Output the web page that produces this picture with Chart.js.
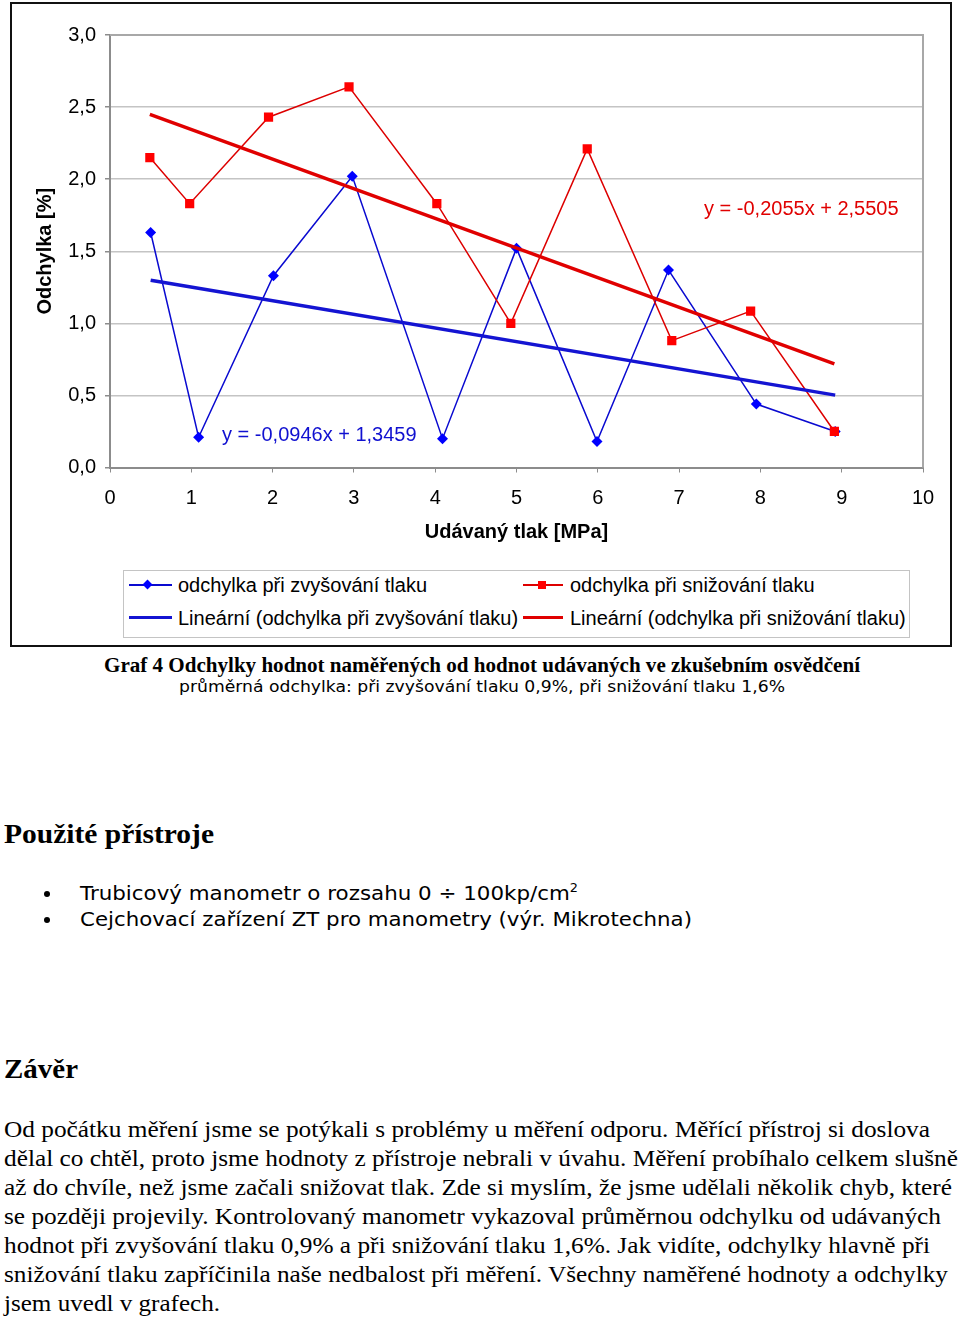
<!DOCTYPE html>
<html lang="cs"><head><meta charset="utf-8">
<script src="https://cdn.jsdelivr.net/npm/chart.js@4.4.0/dist/chart.umd.min.js"></script>
<style>
html,body{margin:0;padding:0;background:#fff;}
body{width:960px;height:1321px;position:relative;overflow:hidden;color:#000;}
.abs{position:absolute;white-space:nowrap;}
#frame{position:absolute;left:10px;top:2px;width:938px;height:641px;border:2px solid #111;}
#chartCanvas{position:absolute;left:0;top:0;}
.sans{font-family:'Liberation Sans',Arial,sans-serif;}
.serif{font-family:'Liberation Serif','Times New Roman',serif;}
.tah{font-family:'DejaVu Sans',Verdana,sans-serif;}
.fit{transform-origin:0 50%;}
#legendBox{position:absolute;left:123px;top:570px;width:785px;height:66px;border:1px solid #c4c4c4;}
.lline{position:absolute;}
.dot{position:absolute;width:6px;height:6px;border-radius:50%;background:#000;}
sup{font-size:60%;vertical-align:0;position:relative;top:-0.7em;}
</style></head>
<body>
<div id="frame"></div>
<canvas id="chartCanvas" width="960" height="560" style="width:960px;height:560px"></canvas>

<!-- trendline equations -->
<div class="abs sans" id="eqUp" style="left:222px;top:422px;font-size:20px;line-height:24px;color:#1010d0;"></div>
<div class="abs sans" id="eqDown" style="left:704px;top:196px;font-size:20px;line-height:24px;color:#e00000;"></div>

<!-- legend -->
<div id="legendBox"></div>
<div class="lline" style="left:129px;top:584px;width:43px;height:2px;background:#0a0ad0;"></div>
<div class="lline" style="left:144px;top:581px;width:7px;height:7px;background:#0000ff;transform:rotate(45deg);"></div>
<div class="lline" style="left:129px;top:616px;width:43px;height:3px;background:#1414d2;"></div>
<div class="lline" style="left:523px;top:584px;width:40px;height:2px;background:#dd0000;"></div>
<div class="lline" style="left:538px;top:581px;width:8px;height:8px;background:#ff0000;"></div>
<div class="lline" style="left:523px;top:616px;width:40px;height:3px;background:#e00000;"></div>
<div class="abs sans" id="leg0" style="left:178px;top:573px;font-size:20px;line-height:24px;"></div>
<div class="abs sans" id="leg1" style="left:570px;top:573px;font-size:20px;line-height:24px;"></div>
<div class="abs sans" id="leg2" style="left:178px;top:606px;font-size:20px;line-height:24px;"></div>
<div class="abs sans" id="leg3" style="left:570px;top:606px;font-size:20px;line-height:24px;"></div>

<!-- caption -->
<div class="abs serif fit" data-w="756" style="left:104px;top:653px;font-size:20px;line-height:24px;font-weight:bold;">Graf 4 Odchylky hodnot naměřených od hodnot udávaných ve zkušebním osvědčení</div>
<div class="abs tah fit" data-w="606" style="left:179px;top:677px;font-size:15px;line-height:20px;">průměrná odchylka: při zvyšování tlaku 0,9%, při snižování tlaku 1,6%</div>

<!-- text below -->
<div class="abs serif fit" data-w="210" style="left:4px;top:818px;font-size:28px;line-height:32px;font-weight:bold;">Použité přístroje</div>
<div class="dot" style="left:44px;top:891px;"></div>
<div class="dot" style="left:44px;top:917px;"></div>
<div class="abs tah fit" data-w="498" style="left:80px;top:880px;font-size:20px;line-height:26px;">Trubicový manometr o rozsahu 0 ÷ 100kp/cm<sup>2</sup></div>
<div class="abs tah fit" data-w="612" style="left:80px;top:906px;font-size:20px;line-height:26px;">Cejchovací zařízení ZT pro manometry (výr. Mikrotechna)</div>

<div class="abs serif fit" data-w="74" style="left:4px;top:1053px;font-size:28px;line-height:32px;font-weight:bold;">Závěr</div>

<div class="abs serif fit" data-w="926" style="left:4px;top:1116px;font-size:23px;line-height:28px;">Od počátku měření jsme se potýkali s problémy u měření odporu. Měřící přístroj si doslova</div>
<div class="abs serif fit" data-w="954" style="left:4px;top:1145px;font-size:23px;line-height:28px;">dělal co chtěl, proto jsme hodnoty z přístroje nebrali v úvahu. Měření probíhalo celkem slušně</div>
<div class="abs serif fit" data-w="948" style="left:4px;top:1174px;font-size:23px;line-height:28px;">až do chvíle, než jsme začali snižovat tlak. Zde si myslím, že jsme udělali několik chyb, které</div>
<div class="abs serif fit" data-w="937" style="left:4px;top:1203px;font-size:23px;line-height:28px;">se později projevily. Kontrolovaný manometr vykazoval průměrnou odchylku od udávaných</div>
<div class="abs serif fit" data-w="926" style="left:4px;top:1232px;font-size:23px;line-height:28px;">hodnot při zvyšování tlaku 0,9% a při snižování tlaku 1,6%. Jak vidíte, odchylky hlavně při</div>
<div class="abs serif fit" data-w="944" style="left:4px;top:1261px;font-size:23px;line-height:28px;">snižování tlaku zapříčinila naše nedbalost při měření. Všechny naměřené hodnoty a odchylky</div>
<div class="abs serif fit" data-w="216" style="left:4px;top:1290px;font-size:23px;line-height:28px;">jsem uvedl v grafech.</div>

<script>
// ---- data ----
const seriesNames = ['odchylka při zvyšování tlaku', 'odchylka při snižování tlaku',
                     'Lineární (odchylka při zvyšování tlaku)', 'Lineární (odchylka při snižování tlaku)'];
const xUp   = [0.50, 1.09, 2.01, 2.98, 4.09, 5.00, 5.99, 6.87, 7.95, 8.92];
const yUp   = [1.63, 0.21, 1.33, 2.02, 0.20, 1.52, 0.18, 1.37, 0.44, 0.25];
const xDown = [0.49, 0.98, 1.95, 2.94, 4.02, 4.93, 5.87, 6.91, 7.88, 8.91];
const yDown = [2.15, 1.83, 2.43, 2.64, 1.83, 1.00, 2.21, 0.88, 1.085, 0.25];
// linear trend coefficients shown on the chart: [slope, intercept]
const trendUp   = [-0.0946, 1.3459];
const trendDown = [-0.2055, 2.5505];
const xTickValues = [0, 1, 2, 3, 4, 5, 6, 7, 8, 9, 10];
const yTickValues = [0, 0.5, 1, 1.5, 2, 2.5, 3];
const xTitle = 'Udávaný tlak [MPa]';
const yTitle = 'Odchylka [%]';

const fmt = (v, d) => v.toFixed(d).replace('.', ',');
const eqText = t => 'y = ' + fmt(t[0], 4) + 'x + ' + fmt(t[1], 4);
document.getElementById('eqUp').textContent = eqText(trendUp);
document.getElementById('eqDown').textContent = eqText(trendDown);
['leg0','leg1','leg2','leg3'].forEach((id, i) => {
  document.getElementById(id).textContent = seriesNames[i];
});

const pts = (xs, ys) => xs.map((x, i) => ({x: x, y: ys[i]}));
const trendPts = (xs, t) => {
  const a = Math.min(...xs), b = Math.max(...xs);
  return [{x: a, y: t[0] * a + t[1]}, {x: b, y: t[0] * b + t[1]}];
};

const FONT = "'Liberation Sans', Arial, sans-serif";

const plotFrame = {
  id: 'plotFrame',
  beforeDatasetsDraw(c) {
    const {ctx, chartArea: a} = c;
    ctx.save();
    ctx.strokeStyle = '#a8a8a8';
    ctx.lineWidth = 2;
    ctx.beginPath();
    ctx.moveTo(a.left, a.top);
    ctx.lineTo(a.right, a.top);
    ctx.lineTo(a.right, a.bottom);
    ctx.stroke();
    ctx.restore();
  }
};

new Chart(document.getElementById('chartCanvas'), {
  type: 'scatter',
  data: {
    datasets: [
      { label: seriesNames[3], data: trendPts(xDown, trendDown), showLine: true,
        borderColor: '#e00000', borderWidth: 3.5, pointRadius: 0, fill: false },
      { label: seriesNames[2], data: trendPts(xUp, trendUp), showLine: true,
        borderColor: '#1414d2', borderWidth: 3.5, pointRadius: 0, fill: false },
      { label: seriesNames[1], data: pts(xDown, yDown), showLine: true,
        borderColor: '#dd0000', borderWidth: 1.5, pointStyle: 'rect', pointRadius: 6.5,
        pointBackgroundColor: '#ff0000', pointBorderColor: '#ff0000', pointBorderWidth: 0 },
      { label: seriesNames[0], data: pts(xUp, yUp), showLine: true,
        borderColor: '#0a0ad0', borderWidth: 1.5, pointStyle: 'rectRot', pointRadius: 5.5,
        pointBackgroundColor: '#0000ff', pointBorderColor: '#0000ff', pointBorderWidth: 0 }
    ]
  },
  options: {
    responsive: false,
    animation: false,
    devicePixelRatio: 1,
    layout: { padding: { left: 0, top: 35, right: 37, bottom: 0 } },
    plugins: { legend: { display: false }, tooltip: { enabled: false } },
    elements: { line: { tension: 0 } },
    scales: {
      x: {
        type: 'linear', min: xTickValues[0], max: xTickValues[xTickValues.length - 1],
        afterBuildTicks: s => { s.ticks = xTickValues.map(v => ({value: v})); },
        afterFit: s => { s.height = 92.5; },
        ticks: { color: '#000', font: { family: FONT, size: 20 }, padding: 14, maxRotation: 0,
                 autoSkip: false, callback: v => String(v) },
        grid: { drawOnChartArea: false, drawTicks: true, tickLength: 5, tickColor: '#8c8c8c' },
        border: { display: true, color: '#8c8c8c', width: 2 },
        title: { display: true, text: xTitle, color: '#000',
                 font: { family: FONT, size: 20, weight: 'bold' }, padding: { top: 0, bottom: 16 } }
      },
      y: {
        min: yTickValues[0], max: yTickValues[yTickValues.length - 1],
        afterBuildTicks: s => { s.ticks = yTickValues.map(v => ({value: v})); },
        afterFit: s => { s.width = 110; },
        ticks: { color: '#000', font: { family: FONT, size: 20 }, padding: 9,
                 callback: v => fmt(v, 1) },
        grid: { color: '#c4c4c4', lineWidth: 1.5, tickLength: 5, tickColor: '#8c8c8c' },
        border: { display: true, color: '#8c8c8c', width: 2 },
        title: { display: true, text: yTitle, color: '#000',
                 font: { family: FONT, size: 20, weight: 'bold' }, padding: { top: 33, bottom: 0 } }
      }
    }
  },
  plugins: [plotFrame]
});

function fitAll() {
  document.querySelectorAll('[data-w]').forEach(el => {
    el.style.transform = 'none';
    const w = el.getBoundingClientRect().width;
    const t = parseFloat(el.dataset.w);
    if (w > 0) el.style.transform = 'scaleX(' + (t / w) + ')';
  });
}
fitAll();
if (document.fonts && document.fonts.ready) document.fonts.ready.then(fitAll);
</script>
</body></html>
